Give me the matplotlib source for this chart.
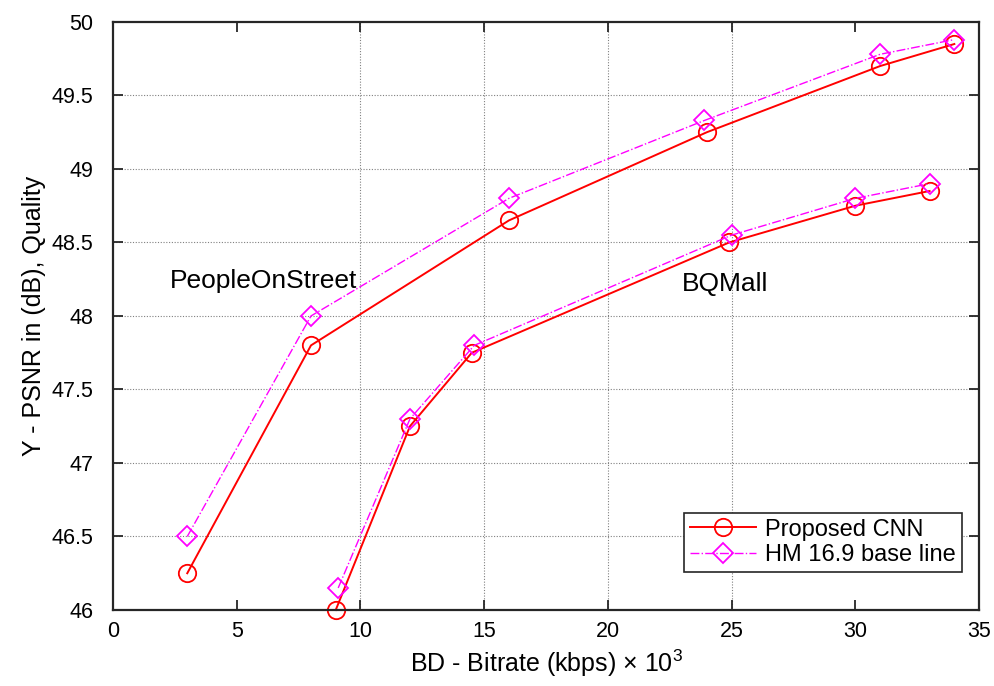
import matplotlib
matplotlib.use('Agg')
import matplotlib.pyplot as plt

plt.rcParams['font.family'] = ['Liberation Sans', 'DejaVu Sans']
plt.rcParams['mathtext.fontset'] = 'custom'
plt.rcParams['mathtext.rm'] = 'Liberation Sans'
plt.rcParams['mathtext.it'] = 'Liberation Sans:italic'

# PeopleOnStreet
pos_rate = [3, 8, 16, 24, 31, 34]
pos_cnn = [46.25, 47.8, 48.65, 49.25, 49.7, 49.85]
pos_hm_rate = [3, 8, 16, 23.9, 31, 34]
pos_hm = [46.5, 48.0, 48.8, 49.33, 49.78, 49.88]

# BQMall
bq_rate = [9, 12, 14.5, 24.9, 30, 33]
bq_cnn = [46.0, 47.25, 47.75, 48.5, 48.75, 48.85]
bq_hm_rate = [9.1, 12, 14.6, 25, 30, 33]
bq_hm = [46.15, 47.3, 47.8, 48.55, 48.8, 48.9]

xticks = [0, 5, 10, 15, 20, 25, 30, 35]
yticks = [46, 46.5, 47, 47.5, 48, 48.5, 49, 49.5, 50]

fig = plt.figure(figsize=(9.95, 6.86), dpi=100)
ax = fig.add_axes([0.1136, 0.1108, 0.8704, 0.8572])

# grid (only some vertical lines in the original)
for gx in [10, 15, 20, 25]:
    ax.axvline(gx, color='#808080', linestyle=(0, (1, 1.5)), linewidth=0.8, zorder=0)
for gy in yticks[1:-1]:
    ax.axhline(gy, color='#808080', linestyle=(0, (1, 1.5)), linewidth=0.8, zorder=0)

red = '#ff0000'
mag = '#ff00ff'
ax.plot(pos_rate, pos_cnn, color=red, linewidth=1.4, marker='o', markersize=12.5,
        markerfacecolor='none', markeredgecolor=red, markeredgewidth=1.3, label='Proposed CNN')
ax.plot(pos_hm_rate, pos_hm, color=mag, linewidth=1.0, linestyle='-.', marker='D', markersize=10,
        markerfacecolor='none', markeredgecolor=mag, markeredgewidth=1.3, label='HM 16.9 base line')
ax.plot(bq_rate, bq_cnn, color=red, linewidth=1.4, marker='o', markersize=12.5,
        markerfacecolor='none', markeredgecolor=red, markeredgewidth=1.3, clip_on=False)
ax.plot(bq_hm_rate, bq_hm, color=mag, linewidth=1.0, linestyle='-.', marker='D', markersize=10,
        markerfacecolor='none', markeredgecolor=mag, markeredgewidth=1.3)

ax.text(2.3, 48.24, 'PeopleOnStreet', fontsize=19, va='center', ha='left')
ax.text(23.0, 48.22, 'BQMall', fontsize=19, va='center', ha='left')

ax.set_xlim(0, 35)
ax.set_ylim(46, 50)
ax.set_xticks(xticks)
ax.set_yticks(yticks)
ax.set_yticklabels(['46', '46.5', '47', '47.5', '48', '48.5', '49', '49.5', '50'])
ax.tick_params(direction='in', top=True, right=True, length=7, width=1.3,
               labelsize=15.5, color='#262626')
ax.tick_params(axis='x', pad=8)
ax.tick_params(axis='y', pad=14)
for s in ax.spines.values():
    s.set_linewidth(1.6)
    s.set_color('#262626')

ax.set_xlabel('BD - Bitrate (kbps) × 10$^{3}$', fontsize=18, labelpad=4)
ax.set_ylabel('Y - PSNR in (dB), Quality', fontsize=18, labelpad=4)

leg = ax.legend(loc='lower right', bbox_to_anchor=(0.980, 0.0646), borderaxespad=0,
                fontsize=17, fancybox=False, edgecolor='#262626', framealpha=1,
                handlelength=2.8, handletextpad=0.4, borderpad=0.25, labelspacing=0.15)
leg.get_frame().set_linewidth(1.2)

fig.savefig('out.png', dpi=100)
